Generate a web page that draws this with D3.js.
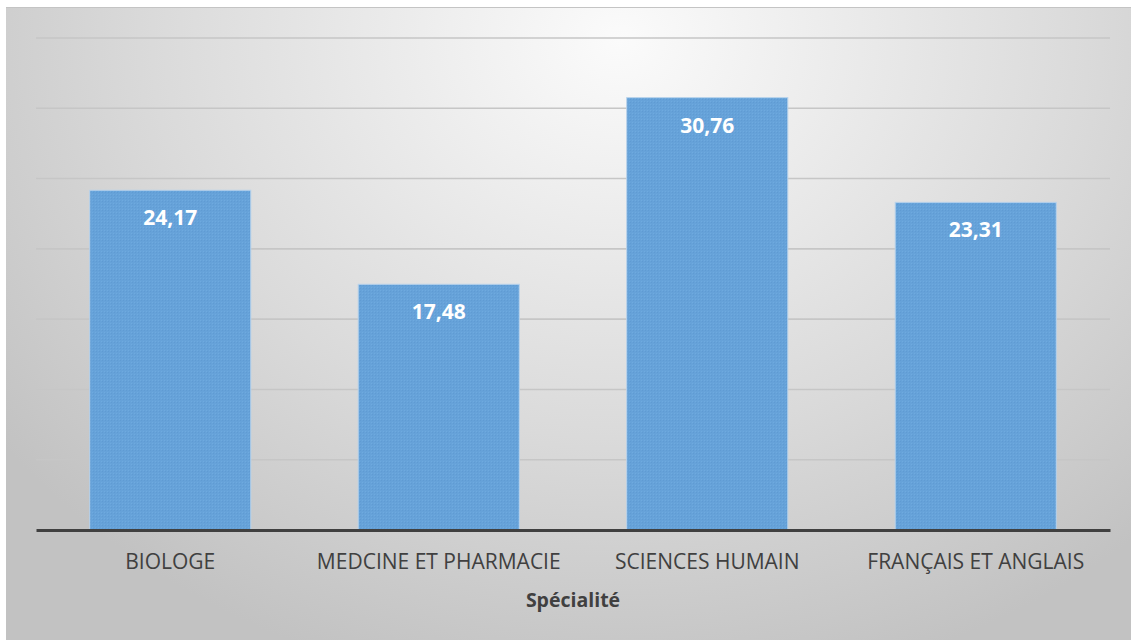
<!DOCTYPE html>
<html>
<head>
<meta charset="utf-8">
<script src="https://cdn.jsdelivr.net/npm/d3@7"></script>
<style>
  html, body { margin: 0; padding: 0; background: #ffffff; }
  svg { display: block; }
</style>
</head>
<body>
<svg id="chart" width="1132" height="641"></svg>
<script>
// Moyennes par spécialité
const categories = ["BIOLOGE", "MEDCINE ET PHARMACIE", "SCIENCES HUMAIN", "FRANÇAIS ET ANGLAIS"];
const values = [24.17, 17.48, 30.76, 23.31];
const valueLabels = ["24,17", "17,48", "30,76", "23,31"];
const yTicks = [0, 5, 10, 15, 20, 25, 30, 35];
const axisTitle = "Spécialité";

const svg = d3.select("#chart");
const frame = { x: 6, y: 7, w: 1125, h: 633 };
const margin = { top: 38, left: 36, right: 1110, bottom: 530 };
const font = "'Open Sans', 'Noto Sans', sans-serif";

const defs = svg.append("defs");
const grad = defs.append("radialGradient")
  .attr("id", "bg")
  .attr("gradientUnits", "userSpaceOnUse")
  .attr("cx", 620).attr("cy", 40).attr("r", 780)
  .attr("gradientTransform", "translate(620,40) scale(1,0.85) translate(-620,-40)");
grad.append("stop").attr("offset", "0%").attr("stop-color", "#fbfbfb");
grad.append("stop").attr("offset", "60%").attr("stop-color", "#dadada");
grad.append("stop").attr("offset", "100%").attr("stop-color", "#c2c2c2");

// fine texture on the bars
const pat = defs.append("pattern")
  .attr("id", "barfill").attr("patternUnits", "userSpaceOnUse")
  .attr("width", 3).attr("height", 3);
pat.append("rect").attr("width", 3).attr("height", 3).attr("fill", "#66a2d9");
pat.append("rect").attr("width", 1).attr("height", 1).attr("fill", "#5f9bd3");
pat.append("rect").attr("x", 2).attr("y", 2).attr("width", 1).attr("height", 1).attr("fill", "#6eaadf");

svg.append("rect")
  .attr("x", frame.x).attr("y", frame.y)
  .attr("width", frame.w).attr("height", frame.h)
  .attr("fill", "url(#bg)");
svg.append("line")
  .attr("x1", frame.x).attr("x2", frame.x + frame.w)
  .attr("y1", frame.y + 0.5).attr("y2", frame.y + 0.5)
  .attr("stroke", "#c4c4c4").attr("stroke-width", 1);

const x = d3.scaleBand()
  .domain(categories)
  .range([margin.left, margin.right])
  .paddingInner(0.4)
  .paddingOuter(0.2);

const y = d3.scaleLinear()
  .domain([0, 35])
  .range([margin.bottom, margin.top]);

// horizontal gridlines
const yAxis = d3.axisLeft(y)
  .tickValues(yTicks.filter(t => t > 0))
  .tickSize(-(margin.right - margin.left))
  .tickFormat("");
const gy = svg.append("g")
  .attr("transform", `translate(${margin.left},0)`)
  .call(yAxis);
gy.select(".domain").remove();
gy.selectAll(".tick line")
  .attr("stroke", "#c6c6c6").attr("stroke-width", 1.6)
  .attr("transform", "translate(0,-0.5)");

// bars
svg.append("g").selectAll("rect")
  .data(values)
  .join("rect")
  .attr("x", (d, i) => x(categories[i]))
  .attr("y", d => y(d))
  .attr("width", x.bandwidth())
  .attr("height", d => y(0) - y(d))
  .attr("fill", "url(#barfill)")
  .attr("stroke", "#b9d3ec")
  .attr("stroke-width", 1);

// value labels
svg.append("g").selectAll("text")
  .data(values)
  .join("text")
  .attr("x", (d, i) => x(categories[i]) + x.bandwidth() / 2)
  .attr("y", d => y(d) + 35)
  .attr("text-anchor", "middle")
  .attr("font-family", font)
  .attr("font-weight", "bold")
  .attr("font-size", 21)
  .attr("fill", "#ffffff")
  .text((d, i) => valueLabels[i]);

// category axis
const xAxis = d3.axisBottom(x).tickSize(0).tickPadding(24);
const gx = svg.append("g")
  .attr("transform", `translate(0,${margin.bottom})`)
  .call(xAxis);
gx.select(".domain").attr("stroke", "#404040").attr("stroke-width", 3.2);
gx.selectAll(".tick text")
  .attr("font-family", font)
  .attr("font-size", 21)
  .attr("fill", "#404040");

// axis title
svg.append("text")
  .attr("x", (margin.left + margin.right) / 2)
  .attr("y", 607)
  .attr("text-anchor", "middle")
  .attr("font-family", font)
  .attr("font-weight", "bold")
  .attr("font-size", 19.5)
  .attr("fill", "#404040")
  .text(axisTitle);
</script>
</body>
</html>
